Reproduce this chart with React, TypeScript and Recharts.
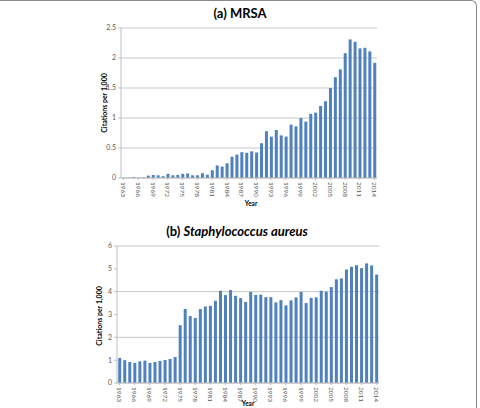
import { BarChart, Bar, XAxis, YAxis, CartesianGrid } from "recharts"

const years = [
  "1963", "1964", "1965", "1966", "1967", "1968", "1969", "1970", "1971", "1972",
  "1973", "1974", "1975", "1976", "1977", "1978", "1979", "1980", "1981", "1982",
  "1983", "1984", "1985", "1986", "1987", "1988", "1989", "1990", "1991", "1992",
  "1993", "1994", "1995", "1996", "1997", "1998", "1999", "2000", "2001", "2002",
  "2003", "2004", "2005", "2006", "2007", "2008", "2009", "2010", "2011", "2012",
  "2013", "2014",
]

const mrsa = [
  0.005, 0.005, 0.015, 0.005, 0.01, 0.04, 0.05, 0.045, 0.03, 0.07,
  0.045, 0.05, 0.07, 0.075, 0.045, 0.045, 0.08, 0.055, 0.13, 0.21,
  0.19, 0.245, 0.355, 0.39, 0.43, 0.42, 0.445, 0.425, 0.58, 0.78,
  0.69, 0.8, 0.71, 0.69, 0.89, 0.86, 1.0, 0.94, 1.07, 1.09,
  1.2, 1.28, 1.5, 1.68, 1.81, 2.08, 2.31, 2.27, 2.16, 2.17,
  2.11, 1.92,
]

const staph = [
  1.1, 1.0, 0.92, 0.88, 0.95, 0.98, 0.88, 0.92, 0.97, 1.01,
  1.05, 1.14, 2.53, 3.24, 2.93, 2.85, 3.24, 3.35, 3.38, 3.6,
  4.04, 3.85, 4.07, 3.82, 3.72, 3.55, 3.99, 3.85, 3.87, 3.76,
  3.76, 3.53, 3.63, 3.4, 3.62, 3.75, 3.99, 3.5, 3.73, 3.75,
  4.04, 4.0, 4.2, 4.54, 4.58, 4.97, 5.09, 5.16, 5.03, 5.24,
  5.15, 4.75,
]

const mrsaTicks = [0, 0.5, 1, 1.5, 2, 2.5]
const staphTicks = [0, 1, 2, 3, 4, 5, 6]

const mrsaData = years.map((y, i) => ({ year: y, value: mrsa[i] }))
const staphData = years.map((y, i) => ({ year: y, value: staph[i] }))

const font = "Lato, 'Open Sans', sans-serif"
const tickStyle = { fontSize: 7, fill: "#595959", fontFamily: font }
const barColor = "#4f81bd"

function YearTick(props: any) {
  const { x, y, payload } = props
  return (
    <text x={x} y={y} transform={`rotate(90 ${x} ${y})`} dx={0} dy={2.3} fontSize={6.5} fill="#595959" fontFamily={font} textAnchor="start">
      {payload.value}
    </text>
  )
}

function Txt({ x, y, size, rotate, children }: any) {
  return (
    <div
      style={{
        position: "absolute",
        left: x,
        top: y,
        transform: `translate(-50%, -50%)${rotate ? ` rotate(${rotate}deg)` : ""}`,
        fontFamily: font,
        fontWeight: 700,
        fontSize: size,
        whiteSpace: "nowrap",
        color: "#000",
        lineHeight: 1,
      }}
    >
      {children}
    </div>
  )
}

export default function App() {
  return (
    <div style={{ position: "absolute", left: 0, top: 0, width: 480, height: 408, background: "#fff", overflow: "hidden" }}>
      <div
        style={{
          position: "absolute",
          left: -10,
          top: 0,
          width: 487,
          height: 430,
          borderTop: "1px solid #8a8a8a",
          borderRight: "1px solid #8a8a8a",
          borderTopRightRadius: 6,
          boxSizing: "border-box",
        }}
      />

      <Txt x={240} y={13} size={13}>(a) MRSA</Txt>
      <div style={{ position: "absolute", left: 0, top: 0 }}>
        <BarChart width={480} height={200} data={mrsaData} margin={{ top: 28, right: 103, left: 0, bottom: 0 }} barCategoryGap="24%">
          <CartesianGrid vertical={false} stroke="#c8c8c8" />
          <XAxis dataKey="year" interval={2} height={22} tick={<YearTick />} tickLine={{ stroke: "#bfbfbf" }} tickSize={2} axisLine={{ stroke: "#bfbfbf" }} />
          <YAxis width={121} domain={[0, 2.5]} ticks={mrsaTicks} tick={tickStyle} tickLine={{ stroke: "#bfbfbf" }} tickSize={3} axisLine={{ stroke: "#bfbfbf" }} />
          <Bar dataKey="value" fill={barColor} isAnimationActive={false} />
        </BarChart>
      </div>
      <Txt x={104} y={103} size={7} rotate={-90}>Citations per 1,000</Txt>
      <Txt x={251} y={204} size={6.5}>Year</Txt>

      <Txt x={237} y={231} size={13}>
        (b) <span style={{ fontStyle: "italic" }}>Staphylococcus aureus</span>
      </Txt>
      <div style={{ position: "absolute", left: 0, top: 218 }}>
        <BarChart width={480} height={190} data={staphData} margin={{ top: 28, right: 101, left: 0, bottom: 0 }} barCategoryGap="24%">
          <CartesianGrid vertical={false} stroke="#c8c8c8" />
          <XAxis dataKey="year" interval={2} height={25} tick={<YearTick />} tickLine={{ stroke: "#bfbfbf" }} tickSize={2} axisLine={{ stroke: "#bfbfbf" }} />
          <YAxis width={117} domain={[0, 6]} ticks={staphTicks} tick={tickStyle} tickLine={{ stroke: "#bfbfbf" }} tickSize={3} axisLine={{ stroke: "#bfbfbf" }} />
          <Bar dataKey="value" fill={barColor} isAnimationActive={false} />
        </BarChart>
      </div>
      <Txt x={99} y={316} size={7} rotate={-90}>Citations  per 1,000</Txt>
      <Txt x={248} y={404} size={6.5}>Year</Txt>
    </div>
  )
}
